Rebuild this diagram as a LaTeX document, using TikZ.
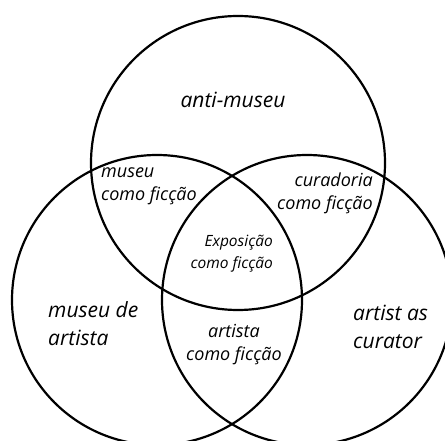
\documentclass[tikz,border=0pt]{standalone}
\usepackage{fontspec}
\setmainfont{Open Sans}
\begin{document}
\begin{tikzpicture}[x=1pt,y=-1pt,
  ring/.style={draw=black, line width=2.2pt, circle, inner sep=0pt},
  big/.style={font=\itshape\fontsize{21}{28}\selectfont},
  mid/.style={font=\itshape\fontsize{18}{23}\selectfont},
  small/.style={font=\itshape\fontsize{15.5}{22}\selectfont},
  lbl/.style={inner sep=0pt}]
\useasboundingbox (0,0) rectangle (445,441);
\clip (0,0) rectangle (445,441);
\node[ring, minimum size=294pt] (top) at (238,163) {};
\node[ring, minimum size=290pt] (left) at (157,300) {};
\node[ring, minimum size=290pt] (right) at (307,300) {};
\node[lbl, big] (anti) at (233,100) {anti-museu};
\node[lbl, mid, align=left, anchor=west] (mcf) at (101,186) {museu\\como ficção};
\node[lbl, mid, align=right, anchor=east] (ccf) at (373,193) {curadoria\\como ficção};
\node[lbl, small, align=right, anchor=east] (ecf) at (273,254) {Exposição\\como ficção};
\node[lbl, big, align=left, anchor=west] (mda) at (48,324) {museu de\\artista};
\node[lbl, mid, align=center] (acf) at (234,345) {artista\\como ficção};
\node[lbl, big, align=left, anchor=west] (aac) at (353,327) {artist as\\curator};
\end{tikzpicture}
\end{document}
